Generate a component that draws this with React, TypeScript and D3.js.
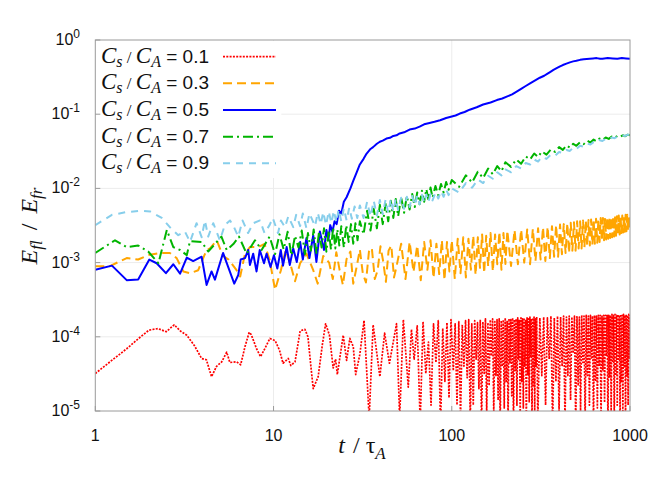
import React, { useRef, useEffect } from 'react';
import * as d3 from 'd3';

type Pt = [number, number];

// t / tau_A versus E_fl / E_fr
const ratio01: Pt[] = [
  [1, 3.2e-5], [1.25, 4.9e-5], [1.5, 6.9e-5], [1.75, 9.5e-5], [2.0, 1.23e-4], [2.25, 1.29e-4],
  [2.5, 1.17e-4], [2.77, 1.45e-4], [3.0, 1.2e-4], [3.26, 1.05e-4], [3.6, 7.6e-5], [3.95, 5.1e-5],
  [4.2, 4.9e-5], [4.49, 2.9e-5], [4.79, 4.0e-5], [5.12, 4.6e-5], [5.46, 6.2e-5], [5.69, 4.5e-5],
  [6.2, 4.6e-5], [6.54, 4.2e-5], [6.92, 7.4e-5], [7.3, 1.15e-4], [7.5, 1.07e-4], [8.03, 6.9e-5],
  [8.46, 5.4e-5], [8.9, 6.8e-5], [9.54, 9.5e-5], [10.2, 8.9e-5], [10.8, 6.6e-5], [11.3, 4.4e-5],
  [12.1, 5.1e-5], [12.5, 4.1e-5], [13.2, 4.6e-5], [14.1, 1.2e-4], [15.0, 1.26e-4], [15.6, 1.0e-4],
  [16.2, 4.0e-5], [16.7, 2.0e-5], [17.8, 2.9e-5], [18.8, 7.9e-5], [19.6, 1.5e-4], [20.6, 1.05e-4],
  [21.6, 3.8e-5], [22.3, 5.0e-5], [22.8, 3.1e-5], [24.6, 1.05e-4], [25.7, 4.8e-5], [26.8, 9.5e-5],
  [28.0, 7.4e-5], [28.9, 3.1e-5], [30.5, 5.8e-5], [32.2, 1.66e-4], [34.4, 8e-6], [36.2, 1.45e-4],
  [39.5, 2.9e-5], [42, 1.12e-4], [44.7, 4.4e-5], [49, 1.5e-4], [51, 8e-6], [53.5, 1.7e-4],
  [57, 2.1e-5], [59.4, 1.26e-4], [61.5, 5.0e-5], [64, 1.4e-4], [66.5, 7e-6], [69, 1.6e-4],
  [71.5, 3.2e-5], [74, 8.5e-5], [76.5, 1.2e-5], [79, 1.5e-4], [81.5, 4.5e-5], [84, 1.65e-4],
  [86.5, 6e-6], [89, 1.3e-4], [91.5, 2.5e-5], [94, 1.55e-4], [96.5, 1.5e-5], [99, 1.7e-4],
  [102, 3.5e-5], [104.5, 1.5e-4], [107, 1.2e-5], [109.5, 1.6e-4], [112, 8e-6], [114.5, 1.45e-4],
  [117, 4e-5], [119.5, 1.65e-4], [122, 2.8e-5], [124.5, 1.7e-4], [127, 7e-6], [129.5, 1.5e-4],
  [132, 1.2e-5], [134.5, 1.65e-4], [137, 5e-5], [139.5, 1.55e-4], [142, 2e-5], [144.5, 1.7e-4],
  [147, 6e-6], [149.5, 1.6e-4], [152, 3.2e-5], [154.5, 1.75e-4], [157, 9e-6], [159.5, 1.55e-4],
  [162, 2.2e-5], [164.5, 1.7e-4], [167, 5.5e-5], [169.5, 1.75e-4], [172, 9e-6], [174.5, 1.6e-4],
  [177, 3e-5], [179.5, 1.7e-4], [182, 1.4e-5], [184.5, 1.75e-4], [187, 6e-6], [189.5, 1.65e-4],
  [192, 4e-5], [194.5, 1.7e-4], [197, 1.1e-5], [199.5, 1.8e-4], [202, 2.5e-5], [204.5, 1.65e-4],
  [207, 7e-6], [209.5, 1.75e-4], [212, 4.5e-5], [214.5, 1.7e-4], [217, 1.6e-5], [219.5, 1.8e-4],
  [222, 6e-6], [224.5, 1.7e-4], [227, 3.5e-5], [229.5, 1.75e-4], [232, 1.2e-5], [234.5, 1.8e-4],
  [237, 5e-5], [239.5, 1.7e-4], [242, 8e-6], [244.5, 1.8e-4], [247, 2.5e-5], [249.5, 1.75e-4],
  [252, 1.1e-5], [254.5, 1.8e-4], [257, 4e-5], [259.5, 1.7e-4], [262, 6e-6], [264.5, 1.8e-4],
  [267, 3e-5], [269.5, 1.75e-4], [272, 1.3e-5], [274.5, 1.85e-4], [277, 5.5e-5], [279.5, 1.75e-4],
  [282, 7e-6], [284.5, 1.8e-4], [287, 2.2e-5], [289.5, 1.85e-4], [292, 1e-5], [294.5, 1.75e-4],
  [297, 4e-5], [299.5, 1.85e-4], [304, 7e-6], [312, 1.8e-4], [320, 3e-5], [328, 1.85e-4],
  [336, 1.2e-5], [344, 1.8e-4], [352, 5e-5], [360, 1.9e-4], [368, 6e-6], [376, 1.8e-4],
  [384, 2.5e-5], [392, 1.9e-4], [400, 1e-5], [408, 1.85e-4], [416, 4e-5], [424, 1.9e-4],
  [432, 7e-6], [440, 1.85e-4], [448, 3e-5], [456, 1.9e-4], [464, 1.4e-5], [472, 1.85e-4],
  [480, 6e-5], [488, 1.9e-4], [496, 6e-6], [504, 1.9e-4], [512, 2.2e-5], [520, 1.85e-4],
  [528, 1e-5], [536, 1.95e-4], [544, 4.5e-5], [552, 1.9e-4], [560, 7e-6], [568, 1.95e-4],
  [576, 3e-5], [584, 1.9e-4], [592, 1.2e-5], [600, 1.95e-4], [608, 5e-5], [616, 1.9e-4],
  [624, 6e-6], [632, 1.95e-4], [640, 2.5e-5], [648, 1.9e-4], [656, 1.1e-5], [664, 1.95e-4],
  [672, 4e-5], [680, 1.95e-4], [688, 7e-6], [696, 1.9e-4], [704, 3.5e-5], [712, 1.95e-4],
  [720, 1.3e-5], [728, 1.95e-4], [736, 5.5e-5], [744, 1.95e-4], [752, 6e-6], [760, 1.95e-4],
  [768, 2.8e-5], [776, 1.95e-4], [784, 1e-5], [792, 2.0e-4], [800, 4.5e-5], [808, 1.95e-4],
  [816, 7e-6], [824, 2.0e-4], [832, 3e-5], [840, 1.95e-4], [848, 1.2e-5], [856, 2.0e-4],
  [864, 5e-5], [872, 1.95e-4], [880, 6e-6], [888, 2.0e-4], [896, 2.5e-5], [904, 1.95e-4],
  [912, 1e-5], [920, 2.0e-4], [928, 4e-5], [936, 1.95e-4], [944, 7e-6], [952, 2.0e-4],
  [960, 3e-5], [968, 1.95e-4], [976, 1.2e-5], [984, 2.0e-4], [992, 5e-5], [1000, 1.95e-4],
];

const ratio03: Pt[] = [
  [1, 8.9e-4], [1.2, 8.9e-4], [1.5, 1.15e-3], [1.74, 1.1e-3], [1.98, 1.26e-3], [2.3, 1.35e-3],
  [2.62, 1.35e-3], [2.86, 1.15e-3], [3.12, 7.6e-4], [3.4, 7.2e-4], [3.78, 7.9e-4], [4.21, 1.48e-3],
  [4.4, 1.55e-3], [4.8, 2.0e-3], [5.2, 1.23e-3], [5.6, 1.1e-3], [6.2, 7.9e-4], [6.5, 6.5e-4],
  [6.92, 1.32e-3], [7.37, 1.62e-3], [8.2, 1.62e-3], [8.9, 1.78e-3], [9.5, 1.1e-3], [10.2, 4.3e-4],
  [11.0, 7.9e-4], [11.7, 1.48e-3], [12.5, 9.1e-4], [13.2, 5.6e-4], [14.1, 9.8e-4], [15.3, 1.32e-3],
  [16.7, 7.9e-4], [17.7, 5.2e-4], [19.0, 1.23e-3], [20.5, 1.0e-3], [21.5, 6e-4], [22.5, 1.38e-3],
  [23.5, 7.9e-4], [24.5, 5e-4], [25.7, 1.12e-3], [27, 1.41e-3], [28, 5.2e-4], [29.3, 8.9e-4],
  [30.5, 1.5e-3], [31.7, 7.1e-4], [33, 5.4e-4], [34.3, 1.41e-3], [35.6, 1.58e-3], [37, 6e-4],
  [38.4, 7.9e-4], [39.8, 1.66e-3], [41.2, 1.05e-3], [42.7, 5.5e-4], [44.2, 1.45e-3], [45.8, 1.7e-3],
  [47.4, 6.3e-4], [49, 8.9e-4], [52, 1.8e-3], [55, 6.0e-4], [58, 1.9e-3], [61, 7.5e-4],
  [64, 1.7e-3], [67, 5.8e-4], [70, 1.9e-3], [73, 8e-4], [76, 2.0e-3], [79, 6.2e-4],
  [82, 1.8e-3], [85, 7e-4], [88, 2.0e-3], [91, 5.8e-4], [94, 1.9e-3], [97, 7.6e-4],
  [100, 2.0e-3], [104, 6e-4], [108, 2.1e-3], [112, 7.2e-4], [116, 2.2e-3], [120, 6.3e-4],
  [124, 2.1e-3], [128, 8e-4], [132, 2.3e-3], [136, 6.8e-4], [140, 2.2e-3], [144, 8.5e-4],
  [148, 2.4e-3], [152, 7.2e-4], [156, 2.3e-3], [160, 9e-4], [165, 2.5e-3], [170, 7.6e-4],
  [175, 2.4e-3], [180, 9.5e-4], [185, 2.6e-3], [190, 8e-4], [195, 2.5e-3], [200, 9.6e-4],
  [205, 2.7e-3], [215, 9e-4], [225, 2.75e-3], [235, 9.5e-4], [245, 2.8e-3], [255, 1.0e-3],
  [265, 2.8e-3], [275, 9.5e-4], [285, 2.85e-3], [295, 1.05e-3], [305, 2.9e-3], [315, 1.1e-3],
  [325, 3.0e-3], [335, 1.05e-3], [345, 3.05e-3], [355, 1.15e-3], [365, 3.1e-3], [375, 1.2e-3],
  [385, 3.2e-3], [395, 1.2e-3], [405, 3.25e-3], [415, 1.3e-3], [425, 3.3e-3], [435, 1.35e-3],
  [445, 3.4e-3], [455, 1.35e-3], [465, 3.45e-3], [475, 1.45e-3], [485, 3.5e-3], [495, 1.45e-3],
  [505, 3.6e-3], [515, 1.55e-3], [525, 3.6e-3], [535, 1.55e-3], [545, 3.7e-3], [555, 1.6e-3],
  [565, 3.7e-3], [575, 1.7e-3], [585, 3.75e-3], [595, 1.7e-3], [605, 3.8e-3], [615, 1.75e-3],
  [625, 3.85e-3], [635, 1.8e-3], [645, 3.9e-3], [655, 1.85e-3], [665, 3.9e-3], [675, 1.9e-3],
  [685, 4.0e-3], [695, 1.95e-3], [705, 4.0e-3], [715, 2.0e-3], [725, 4.0e-3], [735, 2.05e-3],
  [745, 4.1e-3], [755, 2.1e-3], [765, 4.1e-3], [775, 2.15e-3], [785, 4.1e-3], [795, 2.2e-3],
  [805, 4.2e-3], [815, 2.25e-3], [825, 4.2e-3], [835, 2.3e-3], [845, 4.2e-3], [855, 2.35e-3],
  [865, 4.3e-3], [875, 2.4e-3], [885, 4.3e-3], [895, 2.5e-3], [905, 4.3e-3], [915, 2.55e-3],
  [925, 4.4e-3], [935, 2.6e-3], [945, 4.4e-3], [955, 2.65e-3], [965, 4.4e-3], [975, 2.7e-3],
  [985, 4.4e-3], [995, 2.8e-3], [1000, 4.3e-3],
];

const ratio05: Pt[] = [
  [1, 8.0e-4], [1.24, 9.1e-4], [1.5, 5.8e-4], [1.74, 5.9e-4], [2.01, 1.1e-3], [2.21, 9.8e-4],
  [2.49, 7.2e-4], [2.74, 9.5e-4], [2.99, 7.1e-4], [3.26, 1.17e-3], [3.54, 1.05e-3], [3.95, 1.2e-3],
  [4.21, 5.0e-4], [4.49, 7.6e-4], [4.69, 5.9e-4], [5.21, 1.35e-3], [5.57, 8.7e-4], [6.02, 5.2e-4],
  [6.34, 6.8e-4], [6.54, 1.1e-3], [6.92, 1.15e-3], [7.21, 1.48e-3], [7.37, 9.3e-4], [7.69, 1.32e-3],
  [8.03, 7.6e-4], [8.37, 1.48e-3], [8.84, 9.8e-4], [9.14, 1.32e-3], [9.62, 8.7e-4], [10.05, 1.26e-3],
  [10.5, 8.3e-4], [10.98, 1.48e-3], [11.3, 9.1e-4], [11.85, 1.62e-3], [12.33, 9.3e-4], [12.9, 1.55e-3],
  [13.5, 1.02e-3], [14.1, 1.9e-3], [14.6, 1.1e-3], [15.3, 2.14e-3], [15.9, 1.15e-3], [16.7, 2.34e-3],
  [17.4, 1.02e-3], [18.2, 2.63e-3], [19.2, 1.48e-3], [19.8, 2.75e-3], [20.3, 2.0e-3], [20.8, 3.2e-3],
  [21.4, 2.6e-3], [22.0, 3.6e-3], [22.6, 3.3e-3], [23.3, 5.0e-3], [24.0, 4.6e-3], [24.8, 6.6e-3],
  [25.7, 7.6e-3], [27, 1.0e-2], [28, 1.26e-2], [29.2, 1.62e-2], [30.5, 2.1e-2], [32, 2.5e-2],
  [33.3, 2.95e-2], [35, 3.4e-2], [36.2, 3.6e-2], [38, 4.0e-2], [39.5, 4.25e-2], [41, 4.4e-2],
  [43, 4.7e-2], [45, 4.8e-2], [47, 5.1e-2], [49, 5.2e-2], [51, 5.5e-2], [54, 5.7e-2],
  [58, 6.2e-2], [62, 6.4e-2], [66, 6.8e-2], [70, 7.3e-2], [75, 7.6e-2], [80, 7.9e-2],
  [86, 8.3e-2], [93, 8.9e-2], [100, 9.3e-2], [105, 9.6e-2], [111, 1.02e-1], [118, 1.07e-1],
  [126, 1.15e-1], [138, 1.24e-1], [150, 1.35e-1], [165, 1.44e-1], [179, 1.55e-1], [192, 1.63e-1],
  [205, 1.74e-1], [218, 1.85e-1], [230, 2.0e-1], [245, 2.2e-1], [260, 2.4e-1], [278, 2.65e-1],
  [297, 2.9e-1], [312, 3.1e-1], [330, 3.3e-1], [343, 3.5e-1], [356, 3.7e-1], [372, 3.95e-1],
  [390, 4.2e-1], [405, 4.4e-1], [420, 4.6e-1], [440, 4.8e-1], [460, 5.0e-1], [480, 5.15e-1],
  [500, 5.25e-1], [525, 5.4e-1], [550, 5.5e-1], [572, 5.55e-1], [594, 5.6e-1], [620, 5.65e-1],
  [650, 5.7e-1], [680, 5.6e-1], [700, 5.6e-1], [750, 5.7e-1], [800, 5.65e-1], [850, 5.6e-1],
  [900, 5.7e-1], [950, 5.65e-1], [1000, 5.6e-1],
];

const ratio07: Pt[] = [
  [1, 1.35e-3], [1.29, 2.0e-3], [1.5, 1.62e-3], [1.74, 1.7e-3], [1.98, 1.41e-3], [2.26, 9.8e-4],
  [2.52, 2.75e-3], [2.74, 1.62e-3], [2.99, 1.48e-3], [3.26, 1.26e-3], [3.4, 1.95e-3], [3.95, 1.9e-3],
  [4.3, 1.41e-3], [4.69, 1.78e-3], [5.1, 2.24e-3], [5.46, 1.48e-3], [5.95, 1.78e-3], [6.4, 2.24e-3],
  [7.06, 1.32e-3], [7.87, 2.0e-3], [8.57, 1.48e-3], [9.5, 2.24e-3], [10.2, 1.3e-3], [10.8, 2.4e-3],
  [11.4, 1.5e-3], [12.0, 2.6e-3], [12.6, 1.25e-3], [13.2, 2.3e-3], [13.8, 1.6e-3], [14.4, 2.7e-3],
  [15.0, 1.3e-3], [15.6, 2.5e-3], [16.2, 1.45e-3], [16.8, 2.8e-3], [17.4, 1.35e-3], [18.0, 2.6e-3],
  [18.6, 1.6e-3], [19.2, 2.9e-3], [19.8, 1.4e-3], [20.4, 2.7e-3], [21.0, 1.5e-3], [21.6, 3.0e-3],
  [22.2, 1.55e-3], [22.8, 2.8e-3], [23.4, 1.7e-3], [24.0, 3.1e-3], [24.8, 1.6e-3], [25.6, 3.2e-3],
  [26.4, 1.9e-3], [27.2, 3.3e-3], [28.0, 1.8e-3], [28.8, 3.4e-3], [29.6, 2.0e-3], [30.5, 3.6e-3],
  [32, 2.4e-3], [33.5, 5.0e-3], [35, 2.7e-3], [36.5, 5.3e-3], [38, 2.9e-3], [39.5, 6.0e-3],
  [41, 3.3e-3], [42.5, 6.2e-3], [44, 3.6e-3], [45.5, 6.8e-3], [47, 4.0e-3], [48.5, 7.2e-3],
  [50, 4.2e-3], [52, 7.6e-3], [54, 4.7e-3], [56, 7.9e-3], [58, 5.2e-3], [60, 8.4e-3],
  [62, 5.6e-3], [64, 8.8e-3], [66, 6.1e-3], [68, 9.3e-3], [70, 6.6e-3], [72, 9.8e-3],
  [74, 7.0e-3], [76, 1.03e-2], [78, 7.5e-3], [81, 1.08e-2], [84, 8.1e-3], [87, 1.15e-2],
  [90, 8.8e-3], [93, 1.22e-2], [96, 9.6e-3], [100, 1.3e-2], [110, 1.05e-2], [120, 1.5e-2],
  [130, 1.2e-2], [140, 1.68e-2], [150, 1.38e-2], [160, 1.85e-2], [170, 1.55e-2], [180, 2.0e-2],
  [190, 1.7e-2], [200, 2.25e-2], [215, 1.95e-2], [230, 2.45e-2], [245, 2.15e-2], [260, 2.7e-2],
  [275, 2.45e-2], [290, 2.95e-2], [305, 2.65e-2], [320, 3.15e-2], [340, 2.85e-2], [360, 3.35e-2],
  [380, 3.1e-2], [400, 3.6e-2], [420, 3.3e-2], [440, 3.8e-2], [460, 3.55e-2], [480, 4.0e-2],
  [500, 3.75e-2], [525, 4.2e-2], [550, 3.95e-2], [575, 4.4e-2], [600, 4.15e-2], [625, 4.55e-2],
  [650, 4.3e-2], [675, 4.7e-2], [700, 4.5e-2], [730, 4.85e-2], [760, 4.65e-2], [790, 5.0e-2],
  [820, 4.8e-2], [850, 5.1e-2], [880, 4.95e-2], [910, 5.2e-2], [940, 5.05e-2], [970, 5.3e-2],
  [1000, 5.2e-2],
];

const ratio09: Pt[] = [
  [1, 3.2e-3], [1.24, 4.4e-3], [1.5, 4.8e-3], [1.8, 5.0e-3], [2.03, 4.9e-3], [2.36, 4.0e-3],
  [2.62, 3.0e-3], [2.92, 2.34e-3], [3.18, 2.63e-3], [3.4, 1.9e-3], [3.7, 3.4e-3], [3.95, 2.2e-3],
  [4.12, 3.7e-3], [4.3, 2.24e-3], [4.59, 3.4e-3], [5.0, 2.0e-3], [5.33, 3.2e-3], [5.7, 3.7e-3],
  [6.0, 3.0e-3], [6.34, 2.24e-3], [6.7, 3.7e-3], [7.2, 2.5e-3], [7.7, 3.4e-3], [8.4, 3.7e-3],
  [8.9, 2.5e-3], [9.5, 3.2e-3], [9.9, 4.0e-3], [10.6, 2.5e-3], [11.0, 3.7e-3], [11.6, 3.0e-3],
  [12.1, 4.2e-3], [12.9, 3.0e-3], [13.4, 4.4e-3], [14.1, 3.1e-3], [14.6, 4.6e-3], [15.3, 2.9e-3],
  [15.9, 4.6e-3], [17.1, 3.1e-3], [17.7, 4.7e-3], [18.4, 3.3e-3], [19.0, 4.8e-3], [19.7, 3.2e-3],
  [20.4, 4.9e-3], [21.1, 3.4e-3], [21.8, 5.0e-3], [22.5, 3.5e-3], [23.2, 5.2e-3], [24.0, 3.6e-3],
  [24.8, 5.4e-3], [25.7, 3.7e-3], [26.6, 5.5e-3], [27.5, 3.9e-3], [28.5, 5.7e-3], [29.5, 4.0e-3],
  [30.5, 5.9e-3], [32, 4.0e-3], [33.5, 6.6e-3], [35, 4.2e-3], [36.5, 6.8e-3], [38, 4.3e-3],
  [39.5, 7.0e-3], [41, 4.5e-3], [42.5, 7.0e-3], [44, 4.7e-3], [45.5, 7.2e-3], [47, 4.9e-3],
  [48.5, 7.3e-3], [50, 5.1e-3], [52, 7.5e-3], [54, 5.3e-3], [56, 7.7e-3], [58, 5.6e-3],
  [60, 7.9e-3], [62, 5.9e-3], [64, 8.0e-3], [66, 6.1e-3], [68, 8.2e-3], [70, 6.4e-3],
  [72, 8.3e-3], [74, 6.6e-3], [76, 8.4e-3], [78, 6.9e-3], [81, 8.8e-3], [84, 7.3e-3],
  [87, 9.2e-3], [90, 7.7e-3], [93, 9.7e-3], [96, 8.1e-3], [100, 1.0e-2], [110, 8.8e-3],
  [120, 1.18e-2], [130, 1.02e-2], [140, 1.32e-2], [150, 1.18e-2], [160, 1.48e-2], [170, 1.35e-2],
  [180, 1.65e-2], [190, 1.5e-2], [200, 1.8e-2], [215, 1.65e-2], [230, 2.0e-2], [245, 1.85e-2],
  [260, 2.2e-2], [275, 2.1e-2], [290, 2.45e-2], [305, 2.3e-2], [320, 2.65e-2], [340, 2.5e-2],
  [360, 2.85e-2], [380, 2.75e-2], [400, 3.1e-2], [420, 3.0e-2], [440, 3.3e-2], [460, 3.2e-2],
  [480, 3.55e-2], [500, 3.4e-2], [525, 3.75e-2], [550, 3.65e-2], [575, 4.0e-2], [600, 3.9e-2],
  [625, 4.2e-2], [650, 4.1e-2], [675, 4.45e-2], [700, 4.35e-2], [730, 4.65e-2], [760, 4.55e-2],
  [790, 4.85e-2], [820, 4.75e-2], [850, 5.0e-2], [880, 4.95e-2], [910, 5.15e-2], [940, 5.1e-2],
  [970, 5.3e-2], [1000, 5.25e-2],
];

const ratioLabels = ['0.1', '0.3', '0.5', '0.7', '0.9'];
const xTicks = [1, 10, 100, 1000];
const yExponents = [0, -1, -2, -3, -4, -5];

interface SeriesStyle {
  data: Pt[];
  color: string;
  width: number;
  dash: string;
}

const series: SeriesStyle[] = [
  { data: ratio01, color: '#ff0000', width: 1.7, dash: '2,1.3' },
  { data: ratio03, color: '#ffa500', width: 2, dash: '9,5' },
  { data: ratio05, color: '#0000ff', width: 2, dash: 'none' },
  { data: ratio07, color: '#00b400', width: 2, dash: '10,4,2,4' },
  { data: ratio09, color: '#87ceeb', width: 2, dash: '7,6' },
];

const W = 654;
const H = 491;
const SANS = '"Liberation Sans", Arial, sans-serif';
const SERIF = '"Liberation Serif", "Times New Roman", serif';

const EnergyChart: React.FC = () => {
  const svgRef = useRef<SVGSVGElement>(null);

  useEffect(() => {
    if (!svgRef.current) return;
    const svg = d3.select(svgRef.current);
    svg.selectAll('*').remove();

    const left = 95.3, right = 630, top = 40, bottom = 411;

    const x = d3.scaleLog().domain([1, 1000]).range([left, right]);
    const y = d3.scaleLog().domain([1e-5, 1]).range([bottom, top]);

    svg.append('defs').append('clipPath').attr('id', 'plot-clip')
      .append('rect')
      .attr('x', left).attr('y', top)
      .attr('width', right - left).attr('height', bottom - top);

    // grid
    const grid = svg.append('g').attr('stroke', '#ececec').attr('stroke-width', 1);
    xTicks.slice(1, -1).forEach(t => {
      grid.append('line').attr('x1', x(t)).attr('x2', x(t)).attr('y1', top).attr('y2', bottom);
    });
    yExponents.slice(1, -1).forEach(e => {
      grid.append('line').attr('x1', left).attr('x2', right)
        .attr('y1', y(Math.pow(10, e))).attr('y2', y(Math.pow(10, e)));
    });

    // curves
    const line = d3.line<Pt>().x(d => x(d[0])).y(d => y(d[1]));
    const curves = svg.append('g').attr('clip-path', 'url(#plot-clip)');
    series.forEach(s => {
      curves.append('path')
        .datum(s.data)
        .attr('d', line)
        .attr('fill', 'none')
        .attr('stroke', s.color)
        .attr('stroke-width', s.width)
        .attr('stroke-dasharray', s.dash)
        .attr('stroke-linejoin', 'round');
    });

    // legend
    const legend = svg.append('g');
    legend.append('rect')
      .attr('x', left + 1).attr('y', top + 1)
      .attr('width', 185).attr('height', 137)
      .attr('fill', '#fff');
    series.forEach((s, i) => {
      const ly = 56.7 + i * 26.65;
      const txt = legend.append('text')
        .attr('x', 101).attr('y', ly + 6)
        .attr('fill', '#111');
      txt.append('tspan').attr('font-family', SERIF).attr('font-style', 'italic')
        .attr('font-size', 23).text('C');
      txt.append('tspan').attr('font-family', SERIF).attr('font-style', 'italic')
        .attr('font-size', 16).attr('dy', 4).text('s');
      txt.append('tspan').attr('font-family', SERIF)
        .attr('font-size', 17).attr('dy', -4).text(' / ');
      txt.append('tspan').attr('font-family', SERIF).attr('font-style', 'italic')
        .attr('font-size', 23).text('C');
      txt.append('tspan').attr('font-family', SERIF).attr('font-style', 'italic')
        .attr('font-size', 16).attr('dy', 4).text('A');
      txt.append('tspan').attr('font-family', SANS)
        .attr('font-size', 19).attr('dy', -4).text(` = ${ratioLabels[i]}`);
      legend.append('line')
        .attr('x1', 223).attr('x2', 276).attr('y1', ly).attr('y2', ly)
        .attr('stroke', s.color)
        .attr('stroke-width', s.width)
        .attr('stroke-dasharray', s.dash);
    });

    // frame and ticks
    const frame = svg.append('g').attr('stroke', '#9a9a9a').attr('stroke-width', 1).attr('fill', 'none');
    frame.append('rect')
      .attr('x', left).attr('y', top)
      .attr('width', right - left).attr('height', bottom - top);
    yExponents.forEach(e => {
      const yy = y(Math.pow(10, e));
      frame.append('line').attr('x1', left).attr('x2', left + 5).attr('y1', yy).attr('y2', yy);
    });
    xTicks.forEach(t => {
      frame.append('line').attr('x1', x(t)).attr('x2', x(t)).attr('y1', bottom).attr('y2', bottom - 5);
    });

    // tick labels
    yExponents.forEach(e => {
      const yy = y(Math.pow(10, e));
      const lab = svg.append('text')
        .attr('x', 80).attr('y', yy + 5)
        .attr('text-anchor', 'end')
        .attr('font-family', SANS)
        .attr('fill', '#111');
      lab.append('tspan').attr('font-size', 16).text('10');
      lab.append('tspan').attr('font-size', 12).attr('dy', -7).text(String(e));
    });
    xTicks.forEach(t => {
      svg.append('text')
        .attr('x', x(t)).attr('y', 441)
        .attr('text-anchor', 'middle')
        .attr('font-family', SANS)
        .attr('font-size', 16)
        .attr('fill', '#111')
        .text(String(t));
    });

    // axis titles
    const xt = svg.append('text')
      .attr('x', 362).attr('y', 453)
      .attr('text-anchor', 'middle')
      .attr('font-family', SERIF)
      .attr('fill', '#111');
    xt.append('tspan').attr('font-style', 'italic').attr('font-size', 24).text('t');
    xt.append('tspan').attr('font-size', 24).attr('dx', 2).text(' / ');
    xt.append('tspan').attr('font-size', 24).text('τ');
    xt.append('tspan').attr('font-style', 'italic').attr('font-size', 17).attr('dy', 6).text('A');

    const yt = svg.append('text')
      .attr('transform', 'translate(37,226) rotate(-90)')
      .attr('text-anchor', 'middle')
      .attr('font-family', SERIF)
      .attr('fill', '#111');
    yt.append('tspan').attr('font-style', 'italic').attr('font-size', 24).text('E');
    yt.append('tspan').attr('font-style', 'italic').attr('font-size', 17).attr('dy', 5).text('fl');
    yt.append('tspan').attr('font-size', 24).attr('dy', -5).attr('dx', 4).text(' / ');
    yt.append('tspan').attr('font-style', 'italic').attr('font-size', 24).attr('dx', 4).text('E');
    yt.append('tspan').attr('font-style', 'italic').attr('font-size', 17).attr('dy', 5).text('fr');
  }, []);

  return (
    <svg
      ref={svgRef}
      width={W}
      height={H}
      viewBox={`0 0 ${W} ${H}`}
      style={{ position: 'absolute', left: 0, top: 0, background: '#fff' }}
    />
  );
};

export default function App() {
  return <EnergyChart />;
}
